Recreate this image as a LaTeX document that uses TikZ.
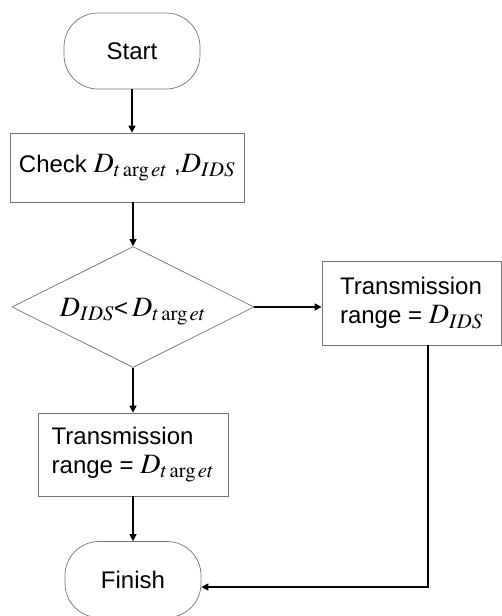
\documentclass[tikz,border=0pt]{standalone}
\usepackage{mathptmx}
\usepackage[no-math]{fontspec}
\setmainfont{Liberation Sans}
\usetikzlibrary{arrows.meta,positioning,shapes.geometric}
\newcommand{\dvar}[1]{{\fontsize{28}{29}\selectfont$#1$}}
\newcommand{\condtext}[1]{\smash{\makebox[0pt]{\raisebox{-9pt}{#1}}}}
\tikzset{
  >={Triangle[length=7pt,width=7pt]},
  % boxes
  term/.style={draw=black!55,line width=0.7pt,rounded corners=34pt,
               minimum width=136pt,minimum height=76pt,inner sep=0pt},
  proc/.style={draw=black!55,line width=0.7pt,inner sep=0pt,align=left},
  cond/.style={diamond,draw=black!55,line width=0.7pt,inner sep=0pt,
               minimum width=242pt,minimum height=121pt},
  % arrows
  flow/.style={->,draw=black,line width=1.3pt},
}

\begin{document}
\begin{tikzpicture}[x=1pt,y=-1pt,every node/.append style={font=\fontsize{24}{29}\selectfont}]
  \useasboundingbox (0,0) rectangle (502,616);
  \node[term] (start) at (132,51) {Start};
  \node[proc,minimum width=234pt,minimum height=69pt] (check) at (127,167.5)
    {Check\ \dvar{D_{t\arg et}} ,\dvar{D_{IDS}}};
  \node[cond] (test) at (133,307)
    {\condtext{\dvar{D_{IDS}}<\,\dvar{D_{t\arg et}}}};
  \node[proc,minimum width=179pt,minimum height=84pt] (rids) at (411.5,303)
    {Transmission\\range =\ \dvar{D_{IDS}}};
  \node[proc,minimum width=190pt,minimum height=83pt] (rtgt) at (133,454.5)
    {Transmission\\range =\ \dvar{D_{t\arg et}}};
  \node[term] (finish) at (133,579.5) {Finish};
  \coordinate (down) at ([xshift=16.5pt]rids.south);
  \draw[flow] (start.south) -- (start.south |- check.north);
  \draw[flow] (test.north |- check.south) -- (test.north);
  \draw[flow] (test.east) -- (test.east -| rids.west);
  \draw[flow] (test.south) -- (rtgt.north);
  \draw[flow] (rtgt.south) -- (finish.north);
  \draw[flow] (down) |- ([yshift=-7.5pt]finish.east);
\end{tikzpicture}
\end{document}
